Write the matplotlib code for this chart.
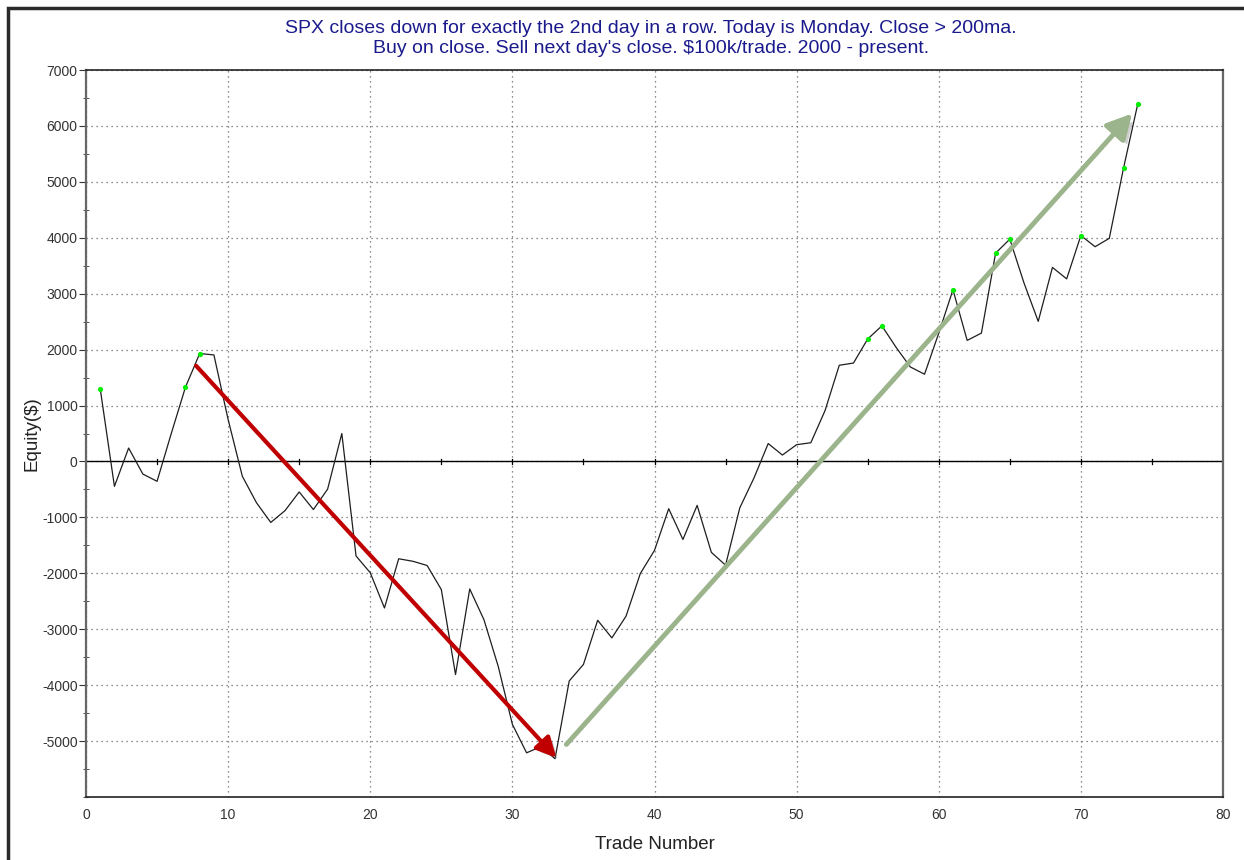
import matplotlib
matplotlib.use("Agg")
import matplotlib.pyplot as plt
import matplotlib.patheffects as pe
from matplotlib.patches import FancyArrowPatch, Rectangle
from matplotlib.ticker import MultipleLocator, FixedLocator

plt.rcParams['font.family'] = ['Liberation Sans', 'DejaVu Sans']
plt.rcParams['axes.unicode_minus'] = False

trade_numbers = list(range(1, 75))
equity = [1300, -445, 240, -225, -355, 500, 1330, 1930, 1905, 750,
          -265, -740, -1090, -880, -545, -860, -495, 500, -1690, -1990,
          -2620, -1740, -1785, -1860, -2290, -3810, -2280, -2830, -3660, -4700,
          -5210, -5100, -5315, -3925, -3630, -2840, -3155, -2765, -2005, -1590,
          -845, -1395, -785, -1625, -1855, -830, -295, 320, 115, 300,
          335, 910, 1720, 1760, 2190, 2425, 2040, 1690, 1560, 2295,
          3070, 2165, 2295, 3725, 3975, 3190, 2505, 3470, 3265, 4040,
          3840, 3990, 5245, 6390]
# trades that made a new equity high
high_trades = [1, 7, 8, 55, 56, 61, 64, 65, 70, 73, 74]
high_values = [equity[t - 1] for t in high_trades]

red_arrow = [(7.75, 1710), (33.1, -5300)]
green_arrow = [(33.8, -5060), (73.6, 6220)]

title = ("SPX closes down for exactly the 2nd day in a row. Today is Monday. Close > 200ma.\n"
         "Buy on close. Sell next day's close. $100k/trade. 2000 - present.")
y_ticks = list(range(-5000, 7001, 1000))
x_ticks = list(range(0, 81, 10))

fig = plt.figure(figsize=(12.44, 8.60), dpi=100)
ax = fig.add_axes([86 / 1244, 1 - 797 / 860, (1223 - 86) / 1244, (797 - 70) / 860])

# outer frame (left and top edges visible)
fig.patches.append(Rectangle((8 / 1244, -0.05), 1.2, 1.05 - 8 / 860,
                             transform=fig.transFigure, fill=False,
                             edgecolor='#2a2a2a', linewidth=2.5, zorder=0))

ax.set_xlim(0, 80)
ax.set_ylim(-6000, 7000)
ax.xaxis.set_major_locator(FixedLocator(x_ticks))
ax.yaxis.set_major_locator(FixedLocator(y_ticks))
ax.yaxis.set_minor_locator(MultipleLocator(500))
ax.grid(True, which='major', linestyle=(0, (1, 3)), color='#666666', linewidth=0.9)
ax.set_axisbelow(True)

ax.tick_params(axis='x', which='both', length=0, pad=8, labelsize=10, colors='#333333')
ax.tick_params(axis='y', which='major', length=5, direction='out', labelsize=10,
               colors='#333333', pad=1)
ax.tick_params(axis='y', which='minor', length=5, direction='inout', color='#333333')

for side in ['top', 'bottom']:
    ax.spines[side].set_color('#222222')
    ax.spines[side].set_linewidth(1.2)
for side in ['left', 'right']:
    ax.spines[side].set_color('#666666')
    ax.spines[side].set_linewidth(1.6)

# zero line with small ticks every 5 trades
ax.axhline(0, color='black', linewidth=1.0, zorder=2)
for xt in range(5, 80, 5):
    ax.plot([xt, xt], [-45, 45], color='black', linewidth=0.9, zorder=2)

ax.plot(trade_numbers, equity, color='#1e1e1e', linewidth=0.9, zorder=3)
ax.scatter(high_trades, high_values, s=14, color='#00ee00', zorder=4, linewidths=0)

shadow = [pe.SimplePatchShadow(offset=(3, -3), shadow_rgbFace='#777777', alpha=0.35), pe.Normal()]
arr1 = FancyArrowPatch(red_arrow[0], red_arrow[1], arrowstyle='-|>,head_length=12,head_width=6',
                       mutation_scale=1, color='#c00000', linewidth=3, zorder=5,
                       shrinkA=0, shrinkB=0)
arr1.set_path_effects(shadow)
ax.add_patch(arr1)
arr2 = FancyArrowPatch(green_arrow[0], green_arrow[1], arrowstyle='-|>,head_length=15,head_width=8',
                       mutation_scale=1, color='#9bb48b', linewidth=3.5, zorder=5,
                       shrinkA=0, shrinkB=0)
arr2.set_path_effects(shadow)
ax.add_patch(arr2)

ax.set_xlabel('Trade Number', fontsize=13.5, color='#222222', labelpad=10)
ax.set_ylabel('Equity($)', fontsize=13.5, color='#222222')
ax.yaxis.set_label_coords((40 - 86) / 1137, 0.5)
fig.text(651 / 1244, 1 - 38.5 / 860, title, ha='center', va='center', fontsize=14,
         color='#1a1a8c', linespacing=1.3)

fig.savefig('out.png', dpi=100)
